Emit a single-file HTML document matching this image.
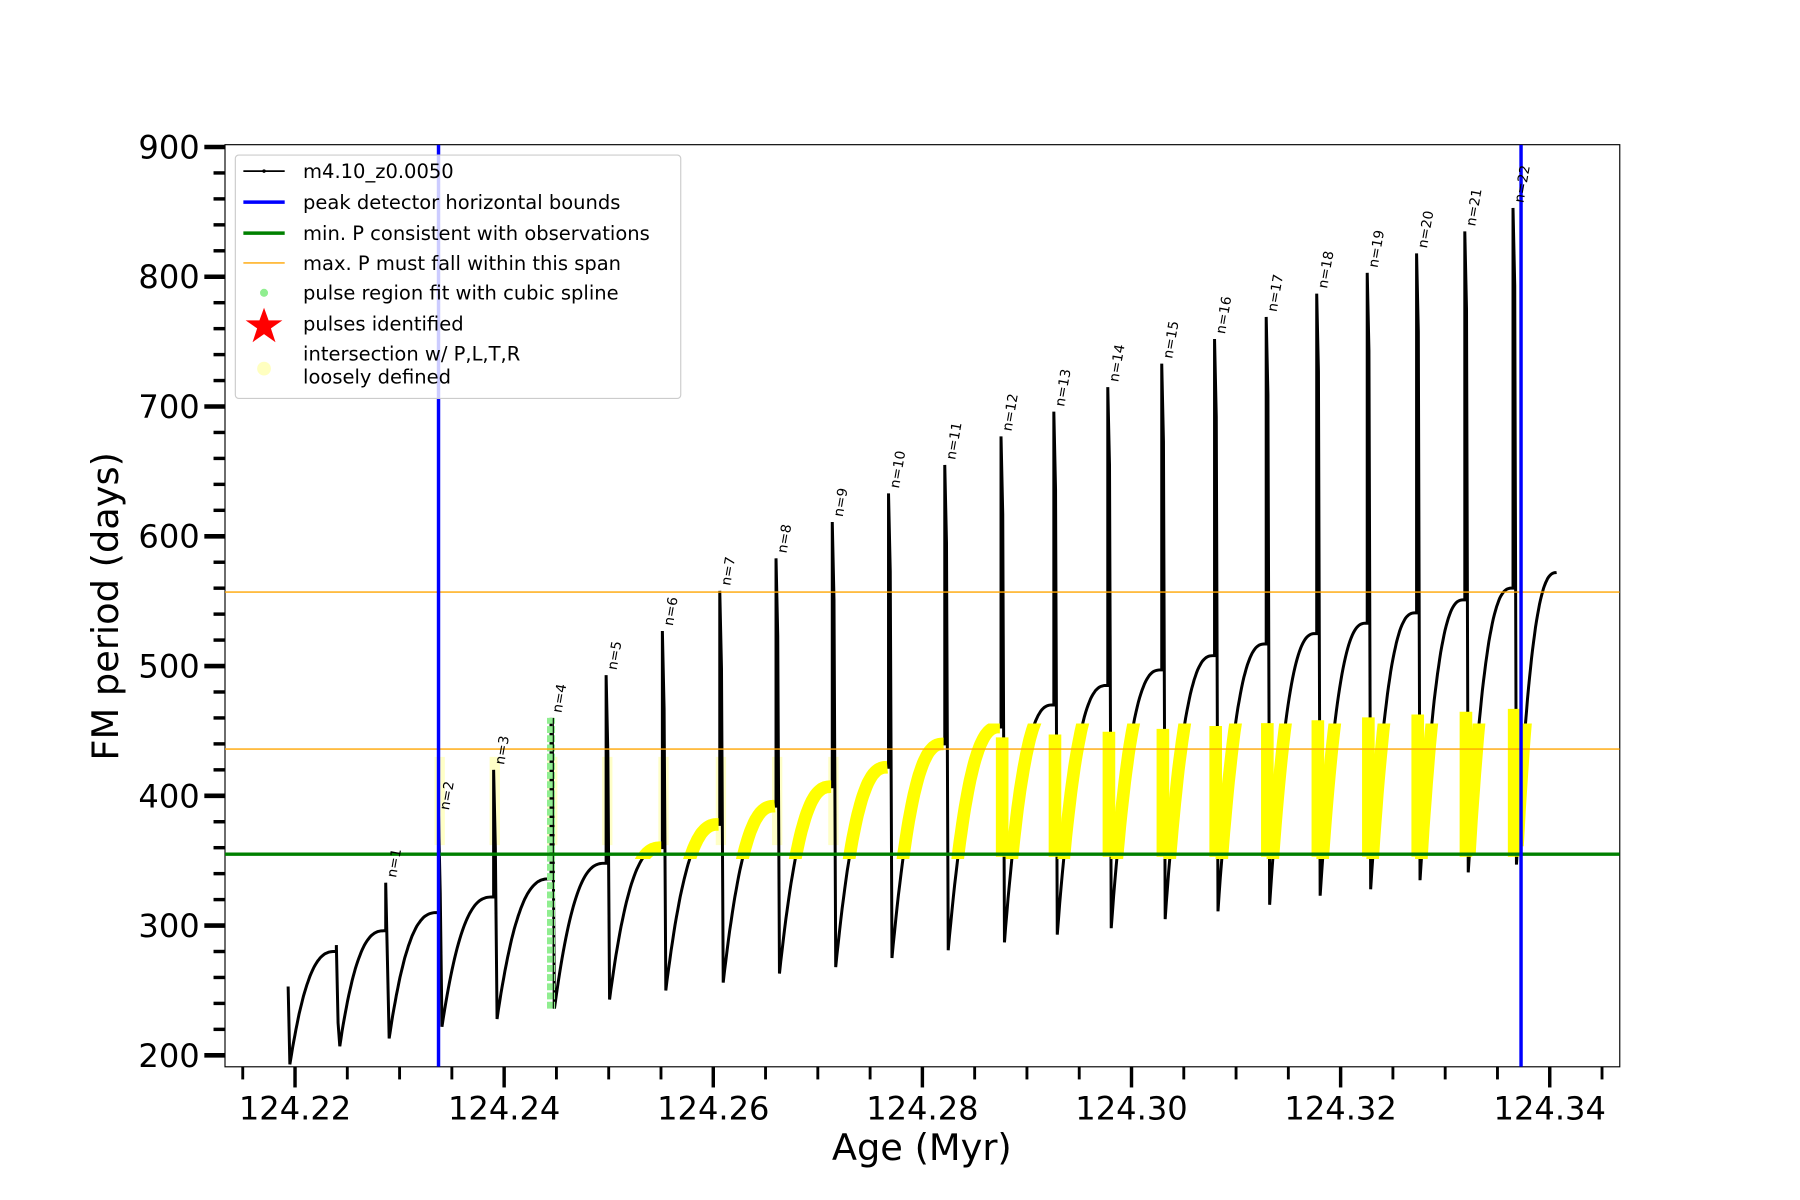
<!DOCTYPE html>
<html><head><meta charset="utf-8"><style>
html,body{margin:0;padding:0;background:#fff}
svg{display:block}
text{font-family:"DejaVu Sans","Liberation Sans",sans-serif}
</style></head><body>
<svg id="s" width="1800" height="1200" viewBox="0 0 1568 1045" preserveAspectRatio="none" xmlns="http://www.w3.org/2000/svg">
<defs>
<clipPath id="plot"><rect x="196" y="126" width="1215" height="803"/></clipPath>
<clipPath id="band"><rect x="540" y="630" width="800" height="118"/></clipPath>
</defs>
<rect x="196" y="126" width="1215" height="803" fill="#fff" stroke="#000" stroke-width="1"/>
<g id="g" clip-path="url(#plot)"></g>
<g id="ax"></g>
<text x="803" y="1010" font-size="32" text-anchor="middle">Age (Myr)</text>
<text transform="translate(103,528) rotate(-90)" font-size="32" text-anchor="middle">FM period (days)</text>
<g>
<rect x="205" y="135" width="388" height="212" fill="#fff" fill-opacity="0.8" stroke="#ccc" rx="3"/>
<line x1="212" y1="149" x2="248" y2="149" stroke="#000" stroke-width="1.5"/><circle cx="230" cy="149" r="1.5"/>
<line x1="212" y1="176" x2="248" y2="176" stroke="#00f" stroke-width="3"/>
<line x1="212" y1="203" x2="248" y2="203" stroke="#008000" stroke-width="3"/>
<line x1="212" y1="229" x2="248" y2="229" stroke="orange" stroke-width="1.2"/>
<circle cx="230" cy="255" r="3.5" fill="#90ee90"/>
<polygon points="230,268 234,279 246,279 236,286 240,298 230,291 220,298 224,286 214,279 226,279" fill="red"/>
<circle cx="230" cy="321" r="6" fill="#ffffc0"/>
<g font-size="17">
<text x="264" y="155">m4.10_z0.0050</text>
<text x="264" y="182">peak detector horizontal bounds</text>
<text x="264" y="209">min. P consistent with observations</text>
<text x="264" y="235">max. P must fall within this span</text>
<text x="264" y="261">pulse region fit with cubic spline</text>
<text x="264" y="288">pulses identified</text>
<text x="264" y="314">intersection w/ P,L,T,R</text>
<text x="264" y="334">loosely defined</text>
</g>
</g>
</svg>
<script>
const NS="http://www.w3.org/2000/svg";
const g=document.getElementById('g'),ax=document.getElementById('ax');
function el(p,t,a){const e=document.createElementNS(NS,t);for(const k in a)e.setAttribute(k,a[k]);p.appendChild(e);return e;}
const Y=v=>919-(v-200)*1.13;
const X=a=>257+(a-124.22)*(1093/0.12);
const sx=[251,293,336,382,430,480,528,577,627,676,725,774,823,872,918,965,1012,1058,1103,1147,1191,1234,1276,1318];
const pk=[253,285,333,385,420,460,493,527,558,583,611,633,655,677,696,715,733,752,769,787,803,818,835,853];
const mn=[201,207,213,222,228,236,243,250,256,263,268,275,281,287,293,298,305,311,316,323,328,335,341,347];
const pl=[280,296,310,322,336,348,360,378,392,407,422,440,453,470,485,497,508,517,525,533,541,551,560,572];
let pts=[],arcs=[];
for(let i=0;i<sx.length;i++){
 const x0=sx[i];
 if(i>0)pts.push([x0,Y(pl[i-1])]);
 pts.push([x0,Y(pk[i])]);
 pts.push([x0+1.5,Y(pk[i]-60)]);
 pts.push([x0+3,Y(mn[i])]);
 const x1=(i+1<sx.length)?sx[i+1]:1357;
 const L=x1-x0-4;
 let a=[];
 for(let k=1;k<=40;k++){const t=k/40;const f=1-Math.pow(1-t,2.6);
  const p=[x0+3+t*L,Y(mn[i]+(pl[i]-mn[i])*f)];pts.push(p);a.push(p);}
 arcs.push(a);
}
const ds=p=>"M"+p.map(q=>q[0].toFixed(1)+","+q[1].toFixed(1)).join("L");
for(let i=3;i<=10;i++){el(g,'line',{x1:sx[i]+1,x2:sx[i]+1,y1:Y(362),y2:Y(430),stroke:'#ffff90','stroke-width':9,opacity:0.5});}
el(g,'path',{d:ds(pts),fill:'none',stroke:'#000','stroke-width':2.6});
const gy=el(g,'g',{'clip-path':'url(#band)'});
arcs.forEach(a=>el(gy,'path',{d:ds(a),fill:'none',stroke:'#ffff00','stroke-width':11,'stroke-linejoin':'round'}));
for(let i=13;i<sx.length;i++){const top=445+(i-13)*2.2;
 el(g,'line',{x1:sx[i]+1,x2:sx[i]+1,y1:Y(353),y2:Y(top),stroke:'#ffff00','stroke-width':11});}
el(g,'line',{x1:480,y1:Y(236),x2:480,y2:Y(460),stroke:'#90ee90','stroke-width':7,'stroke-dasharray':'6 2'});
el(g,'line',{x1:482,y1:Y(236),x2:482,y2:Y(460),stroke:'#000','stroke-width':1});
el(g,'line',{x1:196,x2:1411,y1:Y(355),y2:Y(355),stroke:'#008000','stroke-width':3});
el(g,'line',{x1:196,x2:1411,y1:Y(557),y2:Y(557),stroke:'orange','stroke-width':1.2});
el(g,'line',{x1:196,x2:1411,y1:Y(436),y2:Y(436),stroke:'orange','stroke-width':1.2});
el(g,'line',{x1:382,x2:382,y1:126,y2:929,stroke:'#00f','stroke-width':3});
el(g,'line',{x1:1325,x2:1325,y1:126,y2:929,stroke:'#00f','stroke-width':3});
for(let n=1;n<=22;n++){const i=n+1;const x=sx[i]+9,y=Y(pk[i])-4;
 const t=el(g,'text',{transform:`translate(${x},${y}) rotate(-80)`,'font-size':12});t.textContent='n='+n;}
for(let v=200;v<=900;v+=20){const y=Y(v),maj=v%100===0;
 el(ax,'line',{x1:maj?178:186,x2:196,y1:y,y2:y,stroke:'#000','stroke-width':maj?4:3});
 if(maj){const t=el(ax,'text',{x:174,y:y+10,'font-size':28,'text-anchor':'end'});t.textContent=v;}}
for(let k=-2;k<=26;k++){const a=124.22+k*0.005;const x=X(a);if(x<198||x>1409)continue;const maj=k%4===0;
 el(ax,'line',{x1:x,x2:x,y1:929,y2:maj?947:940,stroke:'#000','stroke-width':maj?3:2.5});
 if(maj){const t=el(ax,'text',{x:x,y:975,'font-size':28,'text-anchor':'middle'});t.textContent=a.toFixed(2);}}
</script>
</body></html>
